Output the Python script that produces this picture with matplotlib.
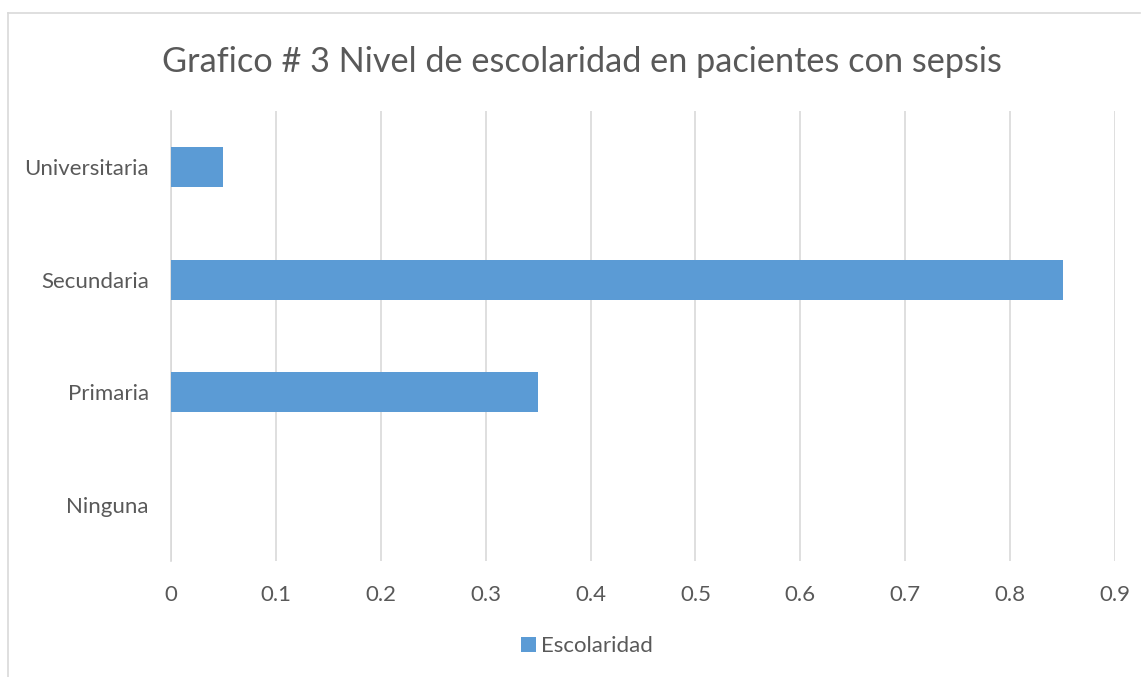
import matplotlib
matplotlib.use("Agg")
import matplotlib.pyplot as plt
from matplotlib.lines import Line2D

categories = ["Ninguna", "Primaria", "Secundaria", "Universitaria"]
values = [0.0, 0.35, 0.85, 0.05]
xticks = [0, 0.1, 0.2, 0.3, 0.4, 0.5, 0.6, 0.7, 0.8, 0.9]
xticklabels = ["0", "0.1", "0.2", "0.3", "0.4", "0.5", "0.6", "0.7", "0.8", "0.9"]
series_name = "Escolaridad"
title = "Grafico # 3 Nivel de escolaridad en pacientes con sepsis"

plt.rcParams['font.family'] = ['Lato', 'DejaVu Sans']
txt = "#595959"
grid = "#d9d9d9"
bar_c = "#5B9BD5"

fig = plt.figure(figsize=(11.43, 6.77), dpi=100)
W, H = 1143, 677
ax = fig.add_axes([171 / W, 1 - 561 / H, (1115 - 171) / W, (561 - 111) / H])

ax.barh(range(len(categories)), values, height=0.355, color=bar_c, label=series_name, zorder=3)
ax.set_ylim(-0.5, 3.5)
ax.set_xlim(0, 0.9)
ax.set_yticks(range(len(categories)))
ax.set_yticklabels(categories, fontsize=16, color=txt)
ax.set_xticks(xticks)
ax.set_xticklabels(xticklabels, fontsize=16, color=txt)
ax.tick_params(length=0, pad=17, axis='x')
ax.tick_params(length=0, pad=16, axis='y')
ax.grid(axis='x', color=grid, linewidth=1.2, zorder=0)
for s in ["top", "right", "bottom"]:
    ax.spines[s].set_visible(False)
ax.spines["left"].set_color(grid)
ax.spines["left"].set_linewidth(1.2)

fig.text(0.5 * (163 + 1000) / W, 1 - 62 / H, title, ha="center", va="center",
         fontsize=24.7, color=txt)

leg = ax.legend(loc="center", bbox_to_anchor=(587 / W, 1 - 646 / H),
                bbox_transform=fig.transFigure, frameon=False, fontsize=16,
                handlelength=0.65, handleheight=0.65, handletextpad=0.25)
for t in leg.get_texts():
    t.set_color(txt)

fig.add_artist(Line2D([7.5 / W, 7.5 / W], [0, 1 - 13 / H], color=grid, linewidth=1.2,
                      transform=fig.transFigure))
fig.add_artist(Line2D([7.5 / W, 1140 / W], [1 - 13 / H, 1 - 13 / H], color=grid,
                      linewidth=1.2, transform=fig.transFigure))

fig.savefig("out.png", dpi=100)
